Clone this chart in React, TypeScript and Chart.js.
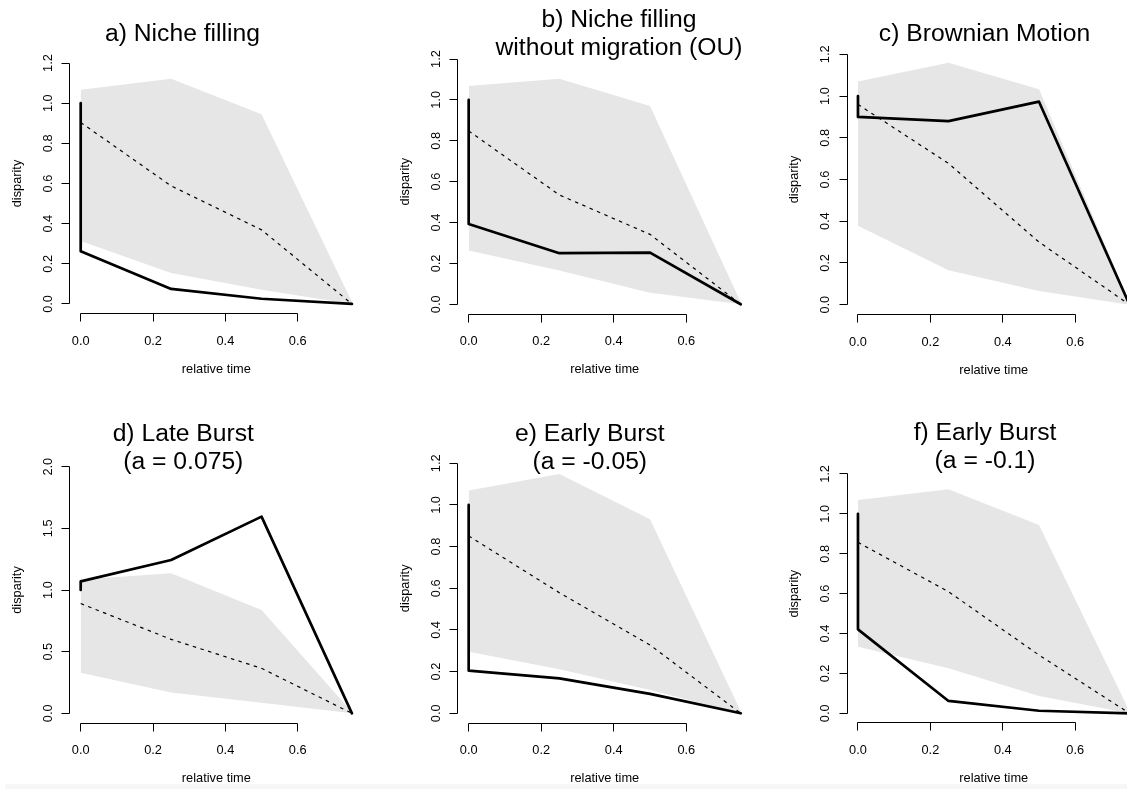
import React, { useEffect, useRef } from "react";
import { Chart, registerables } from "chart.js";

Chart.register(...registerables);

// ---------- shared axes / labels ----------
const simTimes = [0, 0.25, 0.5, 0.75];
const obsTimes = [0, 0, 0.25, 0.5, 0.75];
const xTickValues = [0, 0.2, 0.4, 0.6];
const xTickLabels = ["0.0", "0.2", "0.4", "0.6"];
const yTickValues12 = [0, 0.2, 0.4, 0.6, 0.8, 1.0, 1.2];
const yTickLabels12 = ["0.0", "0.2", "0.4", "0.6", "0.8", "1.0", "1.2"];
const yTickValues20 = [0, 0.5, 1.0, 1.5, 2.0];
const yTickLabels20 = ["0.0", "0.5", "1.0", "1.5", "2.0"];
const xAxisTitle = "relative time";
const yAxisTitle = "disparity";

// ---------- a) Niche filling ----------
const titleA = ["a) Niche filling"];
const upperA = [1.067, 1.122, 0.945, 0.01];
const lowerA = [0.314, 0.154, 0.071, 0];
const medianA = [0.904, 0.588, 0.369, 0];
const observedA = [1.0, 0.262, 0.075, 0.026, 0];

// ---------- b) Niche filling without migration (OU) ----------
const titleB = ["b) Niche filling", "without migration (OU)"];
const upperB = [1.068, 1.104, 0.97, 0.01];
const lowerB = [0.263, 0.165, 0.057, 0];
const medianB = [0.848, 0.535, 0.342, 0];
const observedB = [1.0, 0.393, 0.25, 0.253, 0];

// ---------- c) Brownian Motion ----------
const titleC = ["c) Brownian Motion"];
const upperC = [1.07, 1.16, 1.032, 0.01];
const lowerC = [0.378, 0.165, 0.066, 0];
const medianC = [0.96, 0.677, 0.3, 0];
const observedC = [1.0, 0.9, 0.88, 0.973, 0];

// ---------- d) Late Burst ----------
const titleD = ["d) Late Burst", "(a = 0.075)"];
const upperD = [1.086, 1.135, 0.838, 0.01];
const lowerD = [0.33, 0.168, 0.086, 0];
const medianD = [0.89, 0.6, 0.365, 0];
const observedD = [1.0, 1.07, 1.243, 1.595, 0];

// ---------- e) Early Burst (a = -0.05) ----------
const titleE = ["e) Early Burst", "(a = -0.05)"];
const upperE = [1.069, 1.149, 0.931, 0.01];
const lowerE = [0.296, 0.211, 0.112, 0];
const medianE = [0.851, 0.579, 0.328, 0];
const observedE = [1.0, 0.205, 0.168, 0.093, 0];

// ---------- f) Early Burst (a = -0.1) ----------
const titleF = ["f) Early Burst", "(a = -0.1)"];
const upperF = [1.07, 1.123, 0.944, 0.01];
const lowerF = [0.334, 0.226, 0.087, 0];
const medianF = [0.857, 0.61, 0.292, 0];
const observedF = [1.0, 0.421, 0.062, 0.013, 0];

// ---------- layout (positions only) ----------
const layoutA = { left: 0, top: 0, width: 376, height: 395, pad: { left: 69.85, right: 13.2, top: 53.4, bottom: 81.4 }, titleX: 182.5, titleY: 41 };
const layoutB = { left: 376, top: 0, width: 376, height: 395, pad: { left: 81.8, right: 0.4, top: 49.2, bottom: 80.9 }, titleX: 243, titleY: 26.7 };
const layoutC = { left: 752, top: 0, width: 400, height: 395, pad: { left: 95.1, right: 11.6, top: 44.3, bottom: 80.3 }, titleX: 232.5, titleY: 40.7 };
const layoutD = { left: 0, top: 395, width: 376, height: 394, pad: { left: 69.85, right: 13.2, top: 61.8, bottom: 65.8 }, titleX: 183.3, titleY: 45.7 };
const layoutE = { left: 376, top: 395, width: 376, height: 394, pad: { left: 81.8, right: 0.4, top: 58.3, bottom: 65.7 }, titleX: 213.8, titleY: 45.7 };
const layoutF = { left: 752, top: 395, width: 400, height: 394, pad: { left: 95.1, right: 11.6, top: 69.4, bottom: 66.1 }, titleX: 233, titleY: 45 };

const FONT = '"Liberation Sans", Arial, Helvetica, sans-serif';
const GREY = "#e6e6e6";
const TICK = 8;

const panels = [
  { title: titleA, upper: upperA, lower: lowerA, median: medianA, observed: observedA, yTicks: yTickValues12, yLabels: yTickLabels12, yMax: 1.2, layout: layoutA },
  { title: titleB, upper: upperB, lower: lowerB, median: medianB, observed: observedB, yTicks: yTickValues12, yLabels: yTickLabels12, yMax: 1.2, layout: layoutB },
  { title: titleC, upper: upperC, lower: lowerC, median: medianC, observed: observedC, yTicks: yTickValues12, yLabels: yTickLabels12, yMax: 1.2, layout: layoutC },
  { title: titleD, upper: upperD, lower: lowerD, median: medianD, observed: observedD, yTicks: yTickValues20, yLabels: yTickLabels20, yMax: 2.0, layout: layoutD },
  { title: titleE, upper: upperE, lower: lowerE, median: medianE, observed: observedE, yTicks: yTickValues12, yLabels: yTickLabels12, yMax: 1.2, layout: layoutE },
  { title: titleF, upper: upperF, lower: lowerF, median: medianF, observed: observedF, yTicks: yTickValues12, yLabels: yTickLabels12, yMax: 1.2, layout: layoutF },
];

const snap = (v: number) => Math.round(v - 0.5) + 0.5;

function makeRPlugin(p: any) {
  return {
    id: "rStyle",
    afterDraw(chart: any) {
      const { ctx, chartArea, scales } = chart;
      const xs = scales.x;
      const ys = scales.y;
      ctx.save();
      ctx.strokeStyle = "#000";
      ctx.fillStyle = "#000";
      ctx.lineWidth = 1;
      ctx.lineCap = "butt";

      // x axis
      const axisY = snap(chartArea.bottom);
      ctx.beginPath();
      const xa = snap(xs.getPixelForValue(xTickValues[0]));
      const xb = snap(xs.getPixelForValue(xTickValues[xTickValues.length - 1]));
      ctx.moveTo(xa, axisY);
      ctx.lineTo(xb, axisY);
      xTickValues.forEach((v) => {
        const px = snap(xs.getPixelForValue(v));
        ctx.moveTo(px, axisY);
        ctx.lineTo(px, axisY + TICK);
      });
      // y axis
      const axisX = snap(chartArea.left);
      const ya = snap(ys.getPixelForValue(p.yTicks[0]));
      const yb = snap(ys.getPixelForValue(p.yTicks[p.yTicks.length - 1]));
      ctx.moveTo(axisX, ya);
      ctx.lineTo(axisX, yb);
      p.yTicks.forEach((v: number) => {
        const py = snap(ys.getPixelForValue(v));
        ctx.moveTo(axisX, py);
        ctx.lineTo(axisX - TICK, py);
      });
      ctx.stroke();

      // x tick labels
      ctx.font = `12.8px ${FONT}`;
      ctx.textAlign = "center";
      ctx.textBaseline = "alphabetic";
      xTickValues.forEach((v, i) => {
        ctx.fillText(xTickLabels[i], xs.getPixelForValue(v), chartArea.bottom + 31);
      });
      // y tick labels (rotated)
      p.yTicks.forEach((v: number, i: number) => {
        ctx.save();
        ctx.translate(chartArea.left - 18, ys.getPixelForValue(v));
        ctx.rotate(-Math.PI / 2);
        ctx.fillText(p.yLabels[i], 0, 0);
        ctx.restore();
      });
      // axis titles
      ctx.fillText(xAxisTitle, (chartArea.left + chartArea.right) / 2, chartArea.bottom + 59);
      ctx.save();
      ctx.translate(chartArea.left - 49, (chartArea.top + chartArea.bottom) / 2);
      ctx.rotate(-Math.PI / 2);
      ctx.fillText(yAxisTitle, 0, 0);
      ctx.restore();

      // main title
      ctx.font = `24.7px ${FONT}`;
      p.title.forEach((line: string, i: number) => {
        ctx.fillText(line, p.layout.titleX, p.layout.titleY + i * 28.3);
      });
      ctx.restore();
    },
  };
}

function Panel({ p }: { p: any }) {
  const ref = useRef<HTMLCanvasElement | null>(null);
  useEffect(() => {
    if (!ref.current) return;
    const pts = (xs: number[], ys: number[]) => ys.map((y, i) => ({ x: xs[i], y }));
    const chart = new Chart(ref.current, {
      type: "line",
      data: {
        datasets: [
          {
            label: "observed",
            data: pts(obsTimes, p.observed),
            borderColor: "#000",
            borderWidth: 2.7,
            borderJoinStyle: "round",
            borderCapStyle: "round",
            pointRadius: 0,
            tension: 0,
            fill: false,
          },
          {
            label: "median",
            data: pts(simTimes, p.median),
            borderColor: "#000",
            borderWidth: 1.2,
            borderDash: [3.5, 4.5],
            pointRadius: 0,
            tension: 0,
            fill: false,
          },
          {
            label: "upper",
            data: pts(simTimes, p.upper),
            borderWidth: 0,
            borderColor: "rgba(0,0,0,0)",
            backgroundColor: GREY,
            pointRadius: 0,
            tension: 0,
            fill: "+1",
          },
          {
            label: "lower",
            data: pts(simTimes, p.lower),
            borderWidth: 0,
            borderColor: "rgba(0,0,0,0)",
            pointRadius: 0,
            tension: 0,
            fill: false,
          },
        ],
      },
      options: {
        animation: false,
        responsive: false,
        devicePixelRatio: 1,
        layout: { padding: p.layout.pad },
        scales: {
          x: { type: "linear", min: -0.03, max: 0.78, display: false },
          y: { type: "linear", min: -0.04 * p.yMax, max: 1.04 * p.yMax, display: false },
        },
        plugins: {
          legend: { display: false },
          title: { display: false },
          tooltip: { enabled: false },
          filler: { drawTime: "beforeDatasetsDraw" },
        },
      } as any,
      plugins: [makeRPlugin(p)],
    });
    return () => chart.destroy();
  }, [p]);
  const L = p.layout;
  return (
    <canvas
      ref={ref}
      width={L.width}
      height={L.height}
      style={{ position: "absolute", left: L.left, top: L.top, width: L.width, height: L.height }}
    />
  );
}

export default function App() {
  return (
    <div
      style={{
        position: "absolute",
        left: 0,
        top: 0,
        width: 1127,
        height: 789,
        overflow: "hidden",
        background: "#fff",
      }}
    >
      <div style={{ position: "absolute", left: 5, top: 784, width: 1122, height: 5, background: "#f7f7f7" }} />
      {panels.map((p, i) => (
        <Panel key={i} p={p} />
      ))}
    </div>
  );
}
